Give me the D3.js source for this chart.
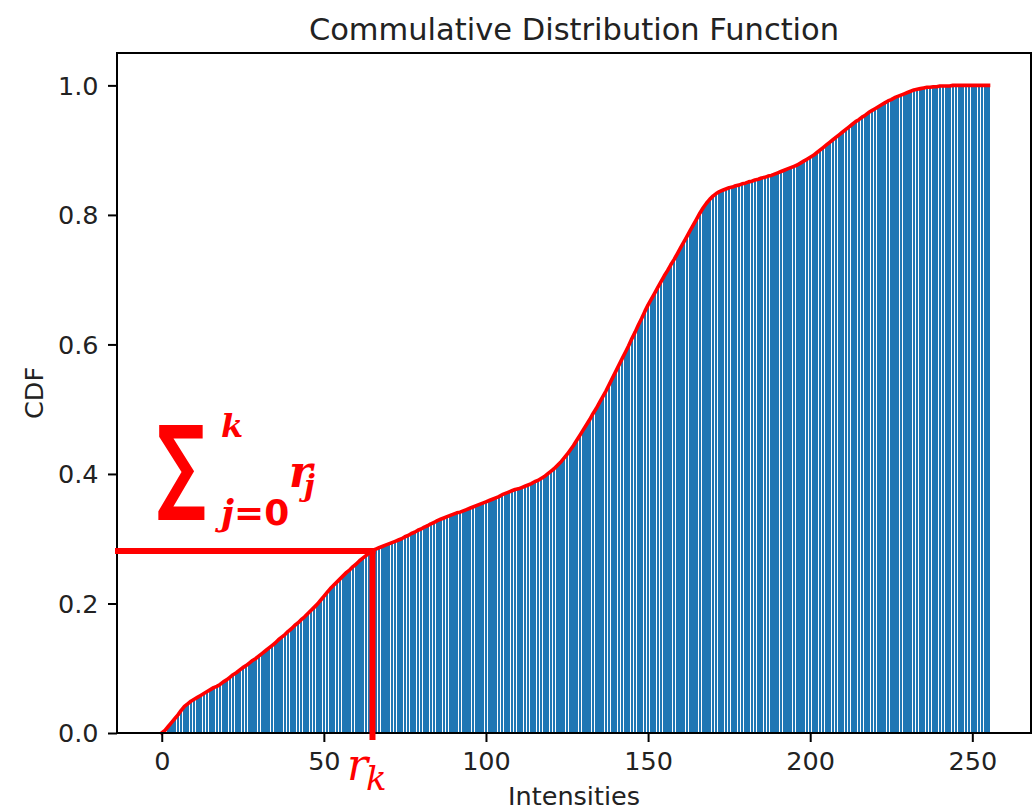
<!DOCTYPE html>
<html>
<head>
<meta charset="utf-8">
<script src="https://cdn.jsdelivr.net/npm/d3@7"></script>
<style>
  html, body { margin: 0; padding: 0; background: #fff; }
  svg { display: block; }
</style>
</head>
<body>
<svg id="chart" width="1036" height="809"></svg>
<script>
// ---- data ----
const cdfValues = [
  0.000, 0.004, 0.010, 0.016, 0.022, 0.028, 0.035, 0.041, 0.045, 0.049,
  0.052, 0.055, 0.058, 0.061, 0.064, 0.067, 0.070, 0.072, 0.075, 0.079,
  0.082, 0.086, 0.090, 0.093, 0.097, 0.101, 0.104, 0.108, 0.112, 0.115,
  0.119, 0.123, 0.127, 0.131, 0.135, 0.139, 0.144, 0.148, 0.152, 0.157,
  0.161, 0.166, 0.170, 0.175, 0.179, 0.184, 0.189, 0.194, 0.199, 0.205,
  0.211, 0.217, 0.223, 0.228, 0.233, 0.238, 0.243, 0.248, 0.252, 0.257,
  0.261, 0.266, 0.270, 0.274, 0.278, 0.281, 0.284, 0.286, 0.288, 0.290,
  0.292, 0.294, 0.296, 0.298, 0.300, 0.303, 0.305, 0.308, 0.310, 0.313,
  0.315, 0.318, 0.320, 0.323, 0.325, 0.328, 0.330, 0.332, 0.334, 0.336,
  0.338, 0.340, 0.341, 0.343, 0.345, 0.347, 0.349, 0.351, 0.353, 0.355,
  0.357, 0.359, 0.361, 0.363, 0.365, 0.368, 0.370, 0.372, 0.374, 0.376,
  0.377, 0.379, 0.381, 0.383, 0.385, 0.388, 0.390, 0.393, 0.396, 0.400,
  0.404, 0.408, 0.413, 0.418, 0.424, 0.430, 0.437, 0.444, 0.452, 0.460,
  0.468, 0.476, 0.484, 0.493, 0.501, 0.510, 0.519, 0.528, 0.538, 0.548,
  0.558, 0.568, 0.578, 0.588, 0.598, 0.609, 0.619, 0.630, 0.640, 0.651,
  0.661, 0.670, 0.679, 0.688, 0.697, 0.706, 0.714, 0.723, 0.731, 0.740,
  0.749, 0.758, 0.767, 0.776, 0.785, 0.794, 0.803, 0.811, 0.818, 0.824,
  0.829, 0.833, 0.836, 0.838, 0.840, 0.842, 0.843, 0.845, 0.846, 0.848,
  0.849, 0.851, 0.852, 0.854, 0.855, 0.857, 0.858, 0.860, 0.861, 0.863,
  0.865, 0.867, 0.869, 0.871, 0.873, 0.875, 0.877, 0.880, 0.883, 0.886,
  0.889, 0.892, 0.896, 0.900, 0.904, 0.908, 0.912, 0.916, 0.920, 0.924,
  0.928, 0.932, 0.936, 0.940, 0.944, 0.947, 0.951, 0.954, 0.958, 0.961,
  0.964, 0.967, 0.970, 0.973, 0.976, 0.978, 0.981, 0.983, 0.985, 0.987,
  0.989, 0.991, 0.993, 0.994, 0.995, 0.996, 0.997, 0.997, 0.998, 0.998,
  0.999, 0.999, 0.999, 0.999, 1.000, 1.000, 1.000, 1.000, 1.000, 1.000,
  1.000, 1.000, 1.000, 1.000, 1.000, 1.000
];
const intensities = cdfValues.map((_, i) => i);
const xTickValues = [0, 50, 100, 150, 200, 250];
const yTickValues = [0.0, 0.2, 0.4, 0.6, 0.8, 1.0];
const xDomain = [-13.8, 268.1];
const yDomain = [0, 1.05];
const annotationK = 65;
const titleText = "Commulative Distribution Function";
const xLabelText = "Intensities";
const yLabelText = "CDF";

// ---- layout ----
const plot = { left: 117, right: 1031, top: 53, bottom: 733 };
const svg = d3.select("#chart");
const x = d3.scaleLinear().domain(xDomain).range([plot.left, plot.right]);
const y = d3.scaleLinear().domain(yDomain).range([plot.bottom, plot.top]);
const barW = x(0.8) - x(0);
const font = "'DejaVu Sans', sans-serif";
const tickSize = 25.5;

// bars
svg.append("g").attr("shape-rendering", "crispEdges").selectAll("rect")
  .data(intensities)
  .join("rect")
  .attr("x", d => x(d - 0.4))
  .attr("width", barW)
  .attr("y", d => y(cdfValues[d]))
  .attr("height", d => y(0) - y(cdfValues[d]))
  .attr("fill", "#1f77b4");

// cdf line
svg.append("path")
  .datum(intensities)
  .attr("fill", "none")
  .attr("stroke", "#ff0000")
  .attr("stroke-width", 3.6)
  .attr("stroke-linejoin", "round")
  .attr("stroke-linecap", "square")
  .attr("d", d3.line().x(d => x(d)).y(d => y(cdfValues[d])));

// axes
const xAxis = svg.append("g")
  .attr("transform", `translate(0,${plot.bottom})`)
  .call(d3.axisBottom(x).tickValues(xTickValues).tickSize(9).tickPadding(9).tickFormat(d3.format("d")));
const yAxis = svg.append("g")
  .attr("transform", `translate(${plot.left},0)`)
  .call(d3.axisLeft(y).tickValues(yTickValues).tickSize(9).tickPadding(9.5).tickFormat(d3.format(".1f")));
[xAxis, yAxis].forEach(g => {
  g.select(".domain").remove();
  g.selectAll(".tick line").attr("stroke", "#000").attr("stroke-width", 2);
  g.selectAll(".tick text").attr("fill", "#222").attr("font-family", font).attr("font-size", tickSize);
});
xAxis.selectAll(".tick text").attr("dy", "0.73em");
yAxis.selectAll(".tick text").attr("dy", "0.35em");

// frame
svg.append("rect")
  .attr("x", plot.left).attr("y", plot.top)
  .attr("width", plot.right - plot.left).attr("height", plot.bottom - plot.top)
  .attr("fill", "none").attr("stroke", "#000").attr("stroke-width", 2);

// title + labels
svg.append("text").attr("x", (plot.left + plot.right) / 2).attr("y", 40)
  .attr("text-anchor", "middle").attr("font-family", font).attr("font-size", 30.5)
  .attr("fill", "#222").text(titleText);
svg.append("text").attr("x", (plot.left + plot.right) / 2).attr("y", 805)
  .attr("text-anchor", "middle").attr("font-family", font).attr("font-size", tickSize)
  .attr("fill", "#222").text(xLabelText);
svg.append("text").attr("transform", `translate(43,${(plot.top + plot.bottom) / 2}) rotate(-90)`)
  .attr("text-anchor", "middle").attr("font-family", font).attr("font-size", tickSize)
  .attr("fill", "#222").text(yLabelText);

// ---- annotations ----
const red = "#ff0000";
const ax = x(annotationK), ay = y(cdfValues[annotationK]);
svg.append("line").attr("x1", plot.left - 2).attr("x2", ax + 3).attr("y1", ay).attr("y2", ay)
  .attr("stroke", red).attr("stroke-width", 6);
svg.append("line").attr("x1", ax).attr("x2", ax).attr("y1", ay - 3).attr("y2", plot.bottom + 7)
  .attr("stroke", red).attr("stroke-width", 6);

const serif = "'DejaVu Serif', 'Liberation Serif', serif";
svg.append("text").attr("transform", "translate(157,500) scale(0.68,1.04)")
  .attr("font-family", "'DejaVu Sans', sans-serif").attr("font-weight", "bold")
  .attr("font-size", 100).attr("fill", red).text("∑");
svg.append("text").attr("x", 221).attr("y", 437)
  .attr("font-family", serif).attr("font-weight", "bold").attr("font-style", "italic")
  .attr("font-size", 32).attr("fill", red).text("k");
svg.append("text").attr("x", 221).attr("y", 525)
  .attr("font-family", "'DejaVu Sans', sans-serif").attr("font-weight", "bold")
  .attr("font-size", 36).attr("fill", red)
  .call(t => {
    t.append("tspan").attr("font-family", serif).attr("font-style", "italic").text("j");
    t.append("tspan").text("=0");
  });
svg.append("text").attr("x", 289).attr("y", 487)
  .attr("font-family", serif).attr("font-weight", "bold").attr("font-style", "italic")
  .attr("font-size", 44).attr("fill", red).text("r");
svg.append("text").attr("x", 304).attr("y", 496)
  .attr("font-family", serif).attr("font-weight", "bold").attr("font-style", "italic")
  .attr("font-size", 30).attr("fill", red).text("j");
svg.append("text").attr("x", 347).attr("y", 780)
  .attr("font-family", serif).attr("font-style", "italic")
  .attr("font-size", 44).attr("fill", red).text("r");
svg.append("text").attr("x", 366).attr("y", 790)
  .attr("font-family", serif).attr("font-style", "italic")
  .attr("font-size", 34).attr("fill", red).text("k");
</script>
</body>
</html>
